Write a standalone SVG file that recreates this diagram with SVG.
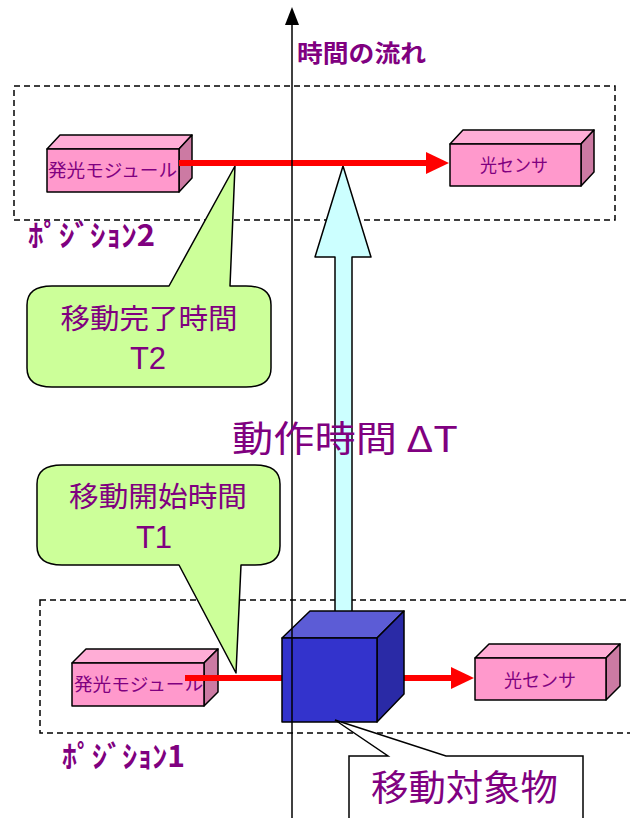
<svg xmlns="http://www.w3.org/2000/svg" width="630" height="818" viewBox="0 0 630 818">
  <style>
    text { font-family: "Noto Sans CJK JP", "Noto Sans", sans-serif; fill: #800080; }
    .zone { fill: none; stroke: #000; stroke-width: 1.5; stroke-dasharray: 6 4; }
    .edge { stroke: #000; stroke-width: 1.5; stroke-linejoin: round; }
    .pk-front { fill: #FF99CC; }
    .pk-top { fill: #FFADD6; }
    .pk-side { fill: #CC7AA3; }
    .bubble { fill: #CCFF99; stroke: #000; stroke-width: 1.5; stroke-linejoin: round; }
    .beam { stroke: #FF0000; stroke-width: 6; fill: none; }
    .box-label { font-size: 18px; }
    .note { font-size: 28px; text-anchor: middle; }
    .tag { font-family: "Liberation Sans", Arial, sans-serif; font-size: 31px; text-anchor: middle; }
    .pos { font-size: 30px; font-weight: bold; }
  </style>

  <!-- position zones -->
  <g id="zone-position2">
    <rect class="zone" x="14" y="86" width="601" height="134"/>
    <text class="pos" x="28" y="246" textLength="127" lengthAdjust="spacingAndGlyphs">ﾎﾟｼﾞｼｮﾝ2</text>
  </g>
  <g id="zone-position1">
    <rect class="zone" x="40" y="600" width="620" height="133"/>
    <text class="pos" x="62" y="767" textLength="123" lengthAdjust="spacingAndGlyphs">ﾎﾟｼﾞｼｮﾝ1</text>
  </g>

  <!-- duration arrow (light cyan block arrow) -->
  <g id="duration-arrow">
    <path class="edge" fill="#CCFFFF" d="M335,612 L335,257 L315,257 L343,166 L371,257 L352,257 L352,612 Z"/>
  </g>

  <!-- position 2 devices -->
  <g id="emitter-top">
    <polygon class="edge pk-top" points="47,149 60,135 192,135 179,149"/>
    <polygon class="edge pk-side" points="179,149 192,135 192,178 179,192"/>
    <rect class="edge pk-front" x="47" y="149" width="132" height="43"/>
    <text class="box-label" x="48" y="177" textLength="129" lengthAdjust="spacingAndGlyphs">発光モジュール</text>
  </g>
  <g id="sensor-top">
    <polygon class="edge pk-top" points="450,144 463,130 594,130 581,144"/>
    <polygon class="edge pk-side" points="581,144 594,130 594,172 581,186"/>
    <rect class="edge pk-front" x="450" y="144" width="131" height="42"/>
    <text class="box-label" x="480" y="172" textLength="68" lengthAdjust="spacingAndGlyphs">光センサ</text>
  </g>

  <!-- position 1 devices -->
  <g id="emitter-bottom">
    <polygon class="edge pk-top" points="72,663 86,649 218,649 204,663"/>
    <polygon class="edge pk-side" points="204,663 218,649 218,692 204,706"/>
    <rect class="edge pk-front" x="72" y="663" width="132" height="43"/>
    <text class="box-label" x="74" y="691" textLength="129" lengthAdjust="spacingAndGlyphs">発光モジュール</text>
  </g>
  <g id="sensor-bottom">
    <polygon class="edge pk-top" points="475,658 489,644 620,644 606,658"/>
    <polygon class="edge pk-side" points="606,658 620,644 620,686 606,700"/>
    <rect class="edge pk-front" x="475" y="658" width="131" height="42"/>
    <text class="box-label" x="504" y="687" textLength="72" lengthAdjust="spacingAndGlyphs">光センサ</text>
  </g>

  <!-- callouts -->
  <g id="callout-t2">
    <path class="bubble" d="M52,286 L169,286 L235,166 L230,286 L246,286 Q271,286 271,305 L271,368 Q271,387 246,387 L52,387 Q27,387 27,368 L27,305 Q27,286 52,286 Z"/>
    <text class="note" x="149" y="329" textLength="177" lengthAdjust="spacingAndGlyphs">移動完了時間</text>
    <text class="tag" x="148" y="369">T2</text>
  </g>
  <g id="callout-t1">
    <path class="bubble" d="M62,465 L255,465 Q280,465 280,484 L280,546 Q280,565 255,565 L241,565 L236,673 L179,565 L62,565 Q37,565 37,546 L37,484 Q37,465 62,465 Z"/>
    <text class="note" x="158" y="507" textLength="178" lengthAdjust="spacingAndGlyphs">移動開始時間</text>
    <text class="tag" x="154" y="548">T1</text>
  </g>

  <!-- light beams -->
  <g id="connectors">
    <line class="beam" x1="179" y1="163" x2="428" y2="163"/>
    <polygon fill="#FF0000" points="426,152 449,163 426,174"/>
    <line class="beam" x1="185" y1="678" x2="282" y2="678"/>
    <line class="beam" x1="377" y1="678" x2="453" y2="678"/>
    <polygon fill="#FF0000" points="451,667 474,678 451,689"/>
  </g>

  <!-- moving object (blue cube) -->
  <g id="moving-object">
    <polygon class="edge" fill="#5C5CD6" points="282,638 310,611 404,611 377,638"/>
    <polygon class="edge" fill="#2A2AA6" points="377,638 404,611 404,694 377,722"/>
    <rect class="edge" fill="#3333CC" x="282" y="638" width="95" height="84"/>
  </g>

  <!-- time axis -->
  <g id="time-axis">
    <line x1="292" y1="22" x2="292" y2="818" stroke="#000" stroke-width="1.5"/>
    <polygon fill="#000" points="292,7 285,25 299,25"/>
    <text x="297" y="62" font-size="24" font-weight="bold" textLength="129" lengthAdjust="spacingAndGlyphs">時間の流れ</text>
  </g>

  <!-- duration label -->
  <g id="duration-label">
    <text x="232" y="452" font-size="36" textLength="226" lengthAdjust="spacingAndGlyphs">動作時間 ΔT</text>
  </g>

  <!-- object label callout -->
  <g id="callout-object">
    <path fill="#FFFFFF" stroke="#000" stroke-width="1.5" stroke-linejoin="miter" d="M349,822 L349,756 L388,756 L335,720 L446,756 L583,756 L583,822"/>
    <text x="371" y="801" font-size="36" textLength="187" lengthAdjust="spacingAndGlyphs">移動対象物</text>
  </g>
</svg>
